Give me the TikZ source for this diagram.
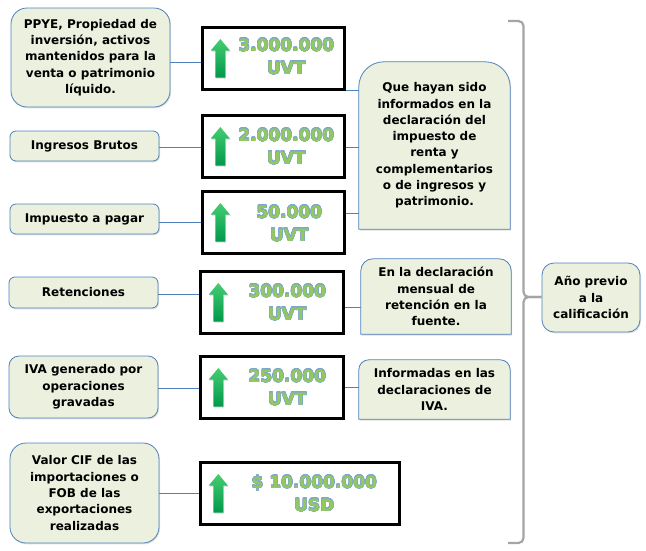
\documentclass[tikz,border=0pt]{standalone}
\usepackage{fontspec}
\setmainfont{DejaVu Sans}
\usepackage{contour}
\contourlength{0.35pt}
\contournumber{24}
\usetikzlibrary{shadows,calc,backgrounds}
\definecolor{boxfill}{HTML}{EBF1DE}
\definecolor{boxline}{HTML}{4F81BD}
\definecolor{valgreen}{HTML}{92C95E}
\definecolor{valline}{HTML}{7FA6CF}
\definecolor{brkgray}{HTML}{A5A5A5}
\definecolor{arrtop}{HTML}{45CD72}
\definecolor{arrbot}{HTML}{00994A}
\newcommand\toproundbox[2]{%
  \draw[notebox] (#1.south west) -- ([yshift=-#2]#1.north west)
    .. controls ([yshift=-0.448*#2]#1.north west) and ([xshift=0.448*#2]#1.north west) .. ([xshift=#2]#1.north west)
    -- ([xshift=-#2]#1.north east)
    .. controls ([xshift=-0.448*#2]#1.north east) and ([yshift=-0.448*#2]#1.north east) .. ([yshift=-#2]#1.north east)
    -- (#1.south east) -- cycle;}
\newcommand\vt[1]{\contour{valline}{#1}}
\begin{document}
\begin{tikzpicture}[x=1pt,y=-1pt,
  txt/.style={align=center, font=\fontsize{12}{16.3}\selectfont\bfseries, inner sep=0pt, text=black},
  lbox/.style={txt, draw=boxline, fill=boxfill, line width=0.8pt,
     drop shadow={shadow xshift=1pt, shadow yshift=-1.3pt, opacity=0.25}},
  notebox/.style={draw=boxline, fill=boxfill, line width=0.8pt,
     drop shadow={shadow xshift=1pt, shadow yshift=-1.3pt, opacity=0.25}},
  mbox/.style={draw=black, line width=2.4pt, inner sep=0pt},
  valtxt/.style={align=center, font=\fontsize{17}{23}\selectfont\bfseries, inner sep=0pt, text=valgreen},
  conn/.style={draw=boxline, line width=0.8pt},
  brk/.style={draw=brkgray, line width=2.2pt, rounded corners=5pt},
  uparrow/.pic={\shade[top color=arrtop, bottom color=arrbot,
     drop shadow={shadow xshift=0.8pt, shadow yshift=-1pt, opacity=0.3}]
     (-5,19) -- (-5,-8) -- (-9.5,-8) -- (0,-19.5) -- (9.5,-8) -- (5,-8) -- (5,19) -- cycle;}]
\useasboundingbox (0,0) rectangle (646,550);

% left boxes
\node[lbox, minimum width=159pt, minimum height=99pt, rounded corners=16pt] (L1) at (90.5,57.5)
  {PPYE, Propiedad de\\inversión, activos\\mantenidos para la\\venta o patrimonio\\líquido.};
\node[lbox, minimum width=149pt, minimum height=30pt, rounded corners=6pt] (L2) at (84.5,146) {Ingresos Brutos};
\node[lbox, minimum width=149pt, minimum height=30pt, rounded corners=6pt] (L3) at (84.5,219) {Impuesto a pagar};
\node[lbox, minimum width=149pt, minimum height=31pt, rounded corners=6pt] (L4) at (83.5,292.5) {Retenciones};
\node[lbox, minimum width=149pt, minimum height=62pt, rounded corners=10pt] (L5) at (83.5,387)
  {IVA generado por\\operaciones\\gravadas};
\node[lbox, minimum width=149pt, minimum height=100pt, rounded corners=16pt] (L6) at (84.5,493)
  {Valor CIF de las\\importaciones o\\FOB de las\\exportaciones\\realizadas};

% middle boxes
\node[mbox, minimum width=142pt, minimum height=62pt] (M1) at (273.5,58.5) {};
\node[mbox, minimum width=142pt, minimum height=62pt] (M2) at (273.5,146.5) {};
\node[mbox, minimum width=142pt, minimum height=62pt] (M3) at (273.5,222.5) {};
\node[mbox, minimum width=143pt, minimum height=62pt] (M4) at (272,302.5) {};
\node[mbox, minimum width=143pt, minimum height=62pt] (M5) at (272,387.5) {};
\node[mbox, minimum width=199pt, minimum height=62pt] (M6) at (300,493.5) {};

\foreach \m in {M1,M2,M3,M4,M5,M6} {\pic at ($(\m.west)+(19,0)$) {uparrow};}

\node[valtxt] (V1) at ($(M1.west)+(85,-2)$) {\vt{3.000.000}\\\vt{UVT}};
\node[valtxt] (V2) at ($(M2.west)+(85,0)$) {\vt{2.000.000}\\\vt{UVT}};
\node[valtxt] (V3) at ($(M3.west)+(88,1)$) {\vt{50.000}\\\vt{UVT}};
\node[valtxt] (V4) at ($(M4.west)+(88,0)$) {\vt{300.000}\\\vt{UVT}};
\node[valtxt] (V5) at ($(M5.west)+(88,0)$) {\vt{250.000}\\\vt{UVT}};
\node[valtxt] (V6) at ($(M6.west)+(115,0)$) {\vt{\$ 10.000.000}\\\vt{USD}};

% notes
\node[txt, minimum width=151pt, minimum height=167pt] (NA) at (434.5,145.5)
  {Que hayan sido\\informados en la\\declaración del\\impuesto de\\renta y\\complementarios\\o de ingresos y\\patrimonio.};
\node[txt, minimum width=150pt, minimum height=75pt] (NB) at (436,296.5)
  {En la declaración\\mensual de\\retención en la\\fuente.};
\node[txt, minimum width=151pt, minimum height=59pt] (NC) at (434.5,389.5)
  {Informadas en las\\declaraciones de\\IVA.};
\node[lbox, minimum width=98pt, minimum height=69pt, rounded corners=12pt] (ND) at (591,297.5)
  {Año previo\\a la\\calificación};

\begin{scope}[on background layer]
  \toproundbox{NA}{25pt}
  \toproundbox{NB}{12pt}
  \toproundbox{NC}{10pt}
\end{scope}

% connectors left
\coordinate (k1) at (0,62);
\coordinate (k2) at (0,147);
\coordinate (k3) at (0,222);
\coordinate (k4) at (0,294);
\coordinate (k5) at (0,388);
\coordinate (k6) at (0,493);
\draw[conn] (L1.east |- k1) -- (M1.west |- k1);
\draw[conn] (L2.east |- k2) -- (M2.west |- k2);
\draw[conn] (L3.east |- k3) -- (M3.west |- k3);
\draw[conn] (L4.east |- k4) -- (M4.west |- k4);
\draw[conn] (L5.east |- k5) -- (M5.west |- k5);
\draw[conn] (L6.east |- k6) -- (M6.west |- k6);

% connectors right
\coordinate (r1) at (0,90);
\coordinate (r2) at (0,147);
\coordinate (r3) at (0,213);
\coordinate (r4) at (0,307);
\coordinate (r5) at (0,387);
\draw[conn] (M1.east |- r1) -- (NA.west |- r1);
\draw[conn] (M2.east |- r2) -- (NA.west |- r2);
\draw[conn] (M3.east |- r3) -- (NA.west |- r3);
\draw[conn] (M4.east |- r4) -- (NB.west |- r4);
\draw[conn] (M5.east |- r5) -- (NC.west |- r5);

% bracket
\coordinate (bt) at (508,21);
\coordinate (bb) at (508,543);
\coordinate (bm) at (523.5,297);
\draw[brk] (bt) -- (bt -| bm) -- (bm) -- (bm -| ND.west);
\draw[brk] (bb) -- (bb -| bm) -- (bm) -- (bm -| ND.west);
\end{tikzpicture}
\end{document}
